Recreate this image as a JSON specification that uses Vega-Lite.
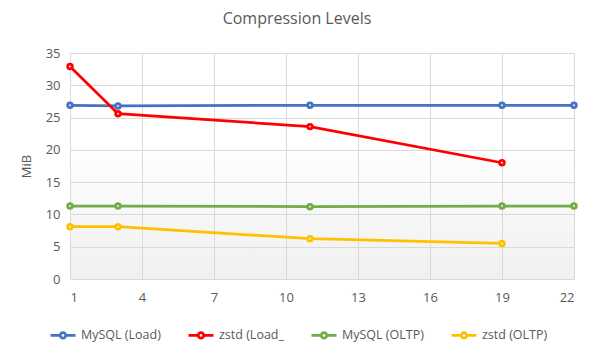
{
  "$schema": "https://vega.github.io/schema/vega-lite/v6.json",
  "width": 504,
  "height": 226,
  "autosize": {"type": "none"},
  "padding": {"left": 70, "top": 53, "right": 23, "bottom": 74},
  "background": "white",
  "title": {"text": "Compression Levels", "fontSize": 16, "font": "Open Sans", "fontWeight": "normal", "color": "#595959", "anchor": "middle", "dx": -25, "offset": 20},
  "config": {
    "view": {"stroke": null, "fill": {"gradient": "linear", "x1": 0, "y1": 0, "x2": 0, "y2": 1, "stops": [{"offset": 0, "color": "#ffffff"}, {"offset": 0.4, "color": "#ffffff"}, {"offset": 1, "color": "#f0f0f0"}]}},
    "axis": {"labelFont": "Open Sans", "labelFontSize": 13, "labelColor": "#595959", "titleFont": "Open Sans", "titleFontSize": 13, "titleColor": "#595959", "titleFontWeight": "normal", "gridColor": "#d9d9d9", "domainColor": "#bfbfbf", "tickSize": 0, "domain": false},
    "legend": {"labelFont": "Open Sans", "labelFontSize": 12.5, "labelColor": "#595959"}
  },
  "data": {"values": [
    {"series": "MySQL (Load)", "level": 1, "mib": 26.9},
    {"series": "MySQL (Load)", "level": 3, "mib": 26.8},
    {"series": "MySQL (Load)", "level": 11, "mib": 26.9},
    {"series": "MySQL (Load)", "level": 19, "mib": 26.9},
    {"series": "MySQL (Load)", "level": 22, "mib": 26.9},
    {"series": "zstd (Load_", "level": 1, "mib": 32.9},
    {"series": "zstd (Load_", "level": 3, "mib": 25.6},
    {"series": "zstd (Load_", "level": 11, "mib": 23.6},
    {"series": "zstd (Load_", "level": 19, "mib": 18.0},
    {"series": "MySQL (OLTP)", "level": 1, "mib": 11.3},
    {"series": "MySQL (OLTP)", "level": 3, "mib": 11.3},
    {"series": "MySQL (OLTP)", "level": 11, "mib": 11.2},
    {"series": "MySQL (OLTP)", "level": 19, "mib": 11.3},
    {"series": "MySQL (OLTP)", "level": 22, "mib": 11.3},
    {"series": "zstd (OLTP)", "level": 1, "mib": 8.1},
    {"series": "zstd (OLTP)", "level": 3, "mib": 8.1},
    {"series": "zstd (OLTP)", "level": 11, "mib": 6.25},
    {"series": "zstd (OLTP)", "level": 19, "mib": 5.5}
  ]},
  "mark": {"type": "line", "strokeWidth": 2.75, "point": {"filled": false, "fill": "#f4f4f4", "size": 22, "strokeWidth": 2.75}},
  "encoding": {
    "x": {"field": "level", "type": "quantitative", "scale": {"domain": [1, 22], "nice": false, "zero": false}, "axis": {"values": [1, 4, 7, 10, 13, 16, 19, 22], "title": null, "labelPadding": 12, "grid": true}},
    "y": {"field": "mib", "type": "quantitative", "scale": {"domain": [0, 35], "nice": false}, "axis": {"values": [0, 5, 10, 15, 20, 25, 30, 35], "title": "MiB", "labelPadding": 10, "titlePadding": 12, "grid": true}},
    "color": {"field": "series", "type": "nominal", "sort": ["MySQL (Load)", "zstd (Load_", "MySQL (OLTP)", "zstd (OLTP)"],
      "scale": {"domain": ["MySQL (Load)", "zstd (Load_", "MySQL (OLTP)", "zstd (OLTP)"], "range": ["#4472C4", "#FF0000", "#70AD47", "#FFC000"]},
      "legend": {"title": null, "orient": "none", "direction": "horizontal", "legendX": -21, "legendY": 268, "columnPadding": 22, "symbolType": "M-1,0L-0.22,0M0.22,0L1,0M0.22,0A0.22,0.22 0 1 1 -0.22,0A0.22,0.22 0 1 1 0.22,0", "symbolSize": 625, "symbolStrokeWidth": 2.75, "symbolFillColor": "white", "labelOffset": 4}}
  }
}
